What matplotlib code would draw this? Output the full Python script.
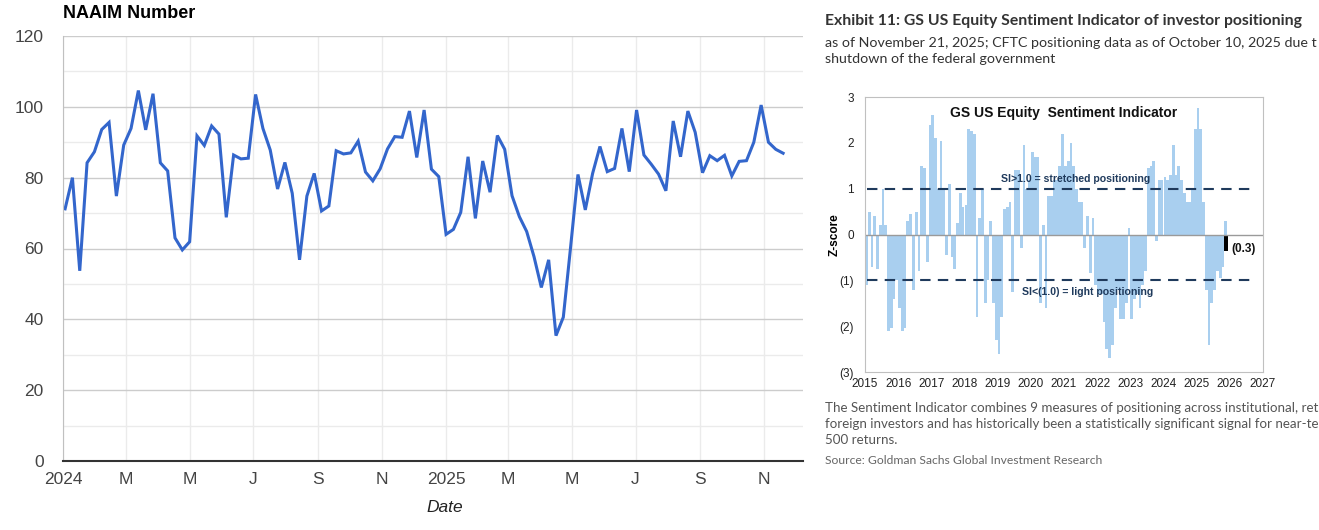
import matplotlib.pyplot as plt
import numpy as np

plt.rcParams['font.family'] = ['Liberation Sans', 'DejaVu Sans']

W, H = 1319, 530

# NAAIM exposure index, weekly readings starting 3 Jan 2024
naaim_start = np.datetime64('2024-01-03')
naaim = [71.2, 80.0, 53.7, 84.2, 87.3, 93.6, 95.6, 74.8, 89.2, 93.9,
         104.6, 93.5, 103.7, 84.2, 81.9, 63.0, 59.6, 61.9, 91.8, 89.1,
         94.6, 92.3, 68.8, 86.4, 85.3, 85.5, 103.5, 93.9, 87.8, 76.8,
         84.3, 75.6, 56.8, 74.8, 81.2, 70.6, 72.0, 87.6, 86.7, 87.0,
         90.3, 81.6, 79.1, 82.5, 88.1, 91.6, 91.4, 98.8, 85.7, 99.1,
         82.4, 80.3, 64.0, 65.4, 70.2, 85.9, 68.5, 84.7, 75.9, 91.9,
         88.0, 74.9, 69.0, 64.8, 57.7, 49.0, 56.8, 35.4, 40.6, 60.5,
         80.9, 70.9, 81.2, 88.8, 81.7, 82.6, 93.9, 81.7, 99.1, 86.4,
         83.8, 81.0, 76.3, 96.0, 85.9, 98.8, 92.8, 81.4, 86.2, 84.8,
         86.3, 80.5, 84.6, 84.8, 90.0, 100.5, 90.0, 88.0, 86.9]
naaim_dates = naaim_start + np.arange(len(naaim)) * np.timedelta64(7, 'D')

naaim_ticks = ['2024-01-01', '2024-03-01', '2024-05-01', '2024-07-01',
               '2024-09-01', '2024-11-01', '2025-01-01', '2025-03-01',
               '2025-05-01', '2025-07-01', '2025-09-01', '2025-11-01']
naaim_ticklabels = ['2024', 'M', 'M', 'J', 'S', 'N',
                    '2025', 'M', 'M', 'J', 'S', 'N']

# GS US equity sentiment indicator (z-score), monthly from Jan 2015
si_start = 2015
si = [-1.1, 0.5, -0.7, 0.4, -0.75, 0.2, 1.0, 0.2, -2.1, -2.05, -1.4, -1.0,
      -1.6, -2.1, -2.05, 0.3, 0.45, -1.2, 0.5, -0.8, 1.5, 1.45, -0.6, 2.4,
      2.6, 2.1, 1.0, 2.05, 1.0, -0.45, 1.1, -0.5, -0.75, 0.25, 0.9, 0.6,
      0.65, 2.3, 2.25, 2.2, -1.8, 0.35, 1.0, -1.5, -1.0, 0.3, -1.5, -2.3,
      -2.6, -1.8, 0.55, 0.6, 0.7, -1.25, 1.4, 1.4, -0.3, 1.95, 1.0, 1.2,
      1.8, 1.7, 1.7, -1.5, 0.2, -1.6, 0.85, 0.85, 1.2, 1.2, 1.5, 2.2,
      1.5, 1.6, 2.0, 1.5, 1.0, 0.7, 0.7, -0.3, 0.4, -0.85, 0.35, -1.1,
      -1.3, -1.3, -1.9, -2.5, -2.7, -2.4, -1.6, -1.2, -1.85, -1.85, -1.5, 0.15,
      -1.85, -1.4, -1.3, -1.6, -1.1, -0.8, 1.45, 1.5, 1.6, -0.15, 1.2, 1.2,
      1.25, 1.2, 1.3, 1.95, 1.3, 1.5, 1.2, 0.9, 0.7, 0.7, 1.0, 2.3,
      2.75, 2.3, 0.7, -1.2, -2.4, -1.5, -1.2, -0.8, -0.95, -0.7, 0.3]
si_x = si_start + (np.arange(len(si)) + 0.5) / 12
si_latest_x = 2025.89
si_latest = -0.35
si_years = list(range(2015, 2028))
si_yticks = [3, 2, 1, 0, -1, -2, -3]
si_yticklabels = ['3', '2', '1', '0', '(1)', '(2)', '(3)']

fig = plt.figure(figsize=(W / 100, H / 100), dpi=100)

# ---- left: NAAIM Number ----
ax = fig.add_axes([63 / W, 1 - 461 / H, 740 / W, 425 / H])
ax.plot(naaim_dates, naaim, color='#3366cc', lw=2.2, solid_joinstyle='miter')
ax.set_ylim(0, 120)
ax.set_xlim(np.datetime64('2024-01-01'), np.datetime64('2025-12-08'))
ax.set_yticks(range(0, 121, 20))
ax.set_yticks(range(10, 120, 20), minor=True)
ax.set_xticks(np.array(naaim_ticks, dtype='datetime64[D]'))
ax.set_xticklabels(naaim_ticklabels)
ax.grid(axis='y', which='major', color='#cccccc', lw=1)
ax.grid(axis='y', which='minor', color='#ebebeb', lw=1)
ax.grid(axis='x', which='major', color='#ebebeb', lw=1)
ax.set_axisbelow(True)
ax.tick_params(which='both', length=0, labelsize=12.5, labelcolor='#444444')
ax.tick_params(axis='y', pad=14)
ax.tick_params(axis='x', pad=8)
for s in ['top', 'right']:
    ax.spines[s].set_visible(False)
ax.spines['left'].set_color('#c0c0c0')
ax.spines['bottom'].set_color('#333333')
ax.spines['bottom'].set_linewidth(1.5)
fig.text(63 / W, 1 - 14 / H, 'NAAIM Number', fontsize=13, fontweight='bold',
         va='center', ha='left')
fig.text(445 / W, 1 - 508 / H, 'Date', fontsize=12.5, style='italic',
         va='center', ha='center', color='#222222')

# ---- right: GS sentiment indicator exhibit ----
lato = ['Lato', 'DejaVu Sans']
fig.text(825 / W, 1 - 21 / H,
         'Exhibit 11: GS US Equity Sentiment Indicator of investor positioning',
         family=lato, fontsize=11.3, fontweight='bold', color='#333333', va='center')
fig.text(825 / W, 1 - 43 / H,
         'as of November 21, 2025; CFTC positioning data as of October 10, 2025 due t',
         family=lato, fontsize=10.3, color='#333333', va='center')
fig.text(825 / W, 1 - 59 / H, 'shutdown of the federal government',
         family=lato, fontsize=10.3, color='#333333', va='center')

bx = fig.add_axes([865 / W, 1 - 372 / H, 398 / W, 275 / H])
bx.bar(si_x, si, width=1 / 12, color='#a9cfef', edgecolor='none')
bx.bar(si_latest_x, si_latest, width=0.12, color='black')
bx.axhline(0, color='#9a9a9a', lw=1)
for lvl in (1, -1):
    bx.plot([2015.05, 2026.6], [lvl, lvl], color='#1f3a5c', lw=1.5,
            dashes=(5, 3.5))
bx.set_xlim(2015, 2027)
bx.set_ylim(-3, 3)
bx.set_xticks(si_years)
bx.set_yticks(si_yticks)
bx.set_yticklabels(si_yticklabels)
bx.tick_params(length=0, labelsize=8.5, labelcolor='#222222')
bx.tick_params(axis='x', pad=4)
bx.tick_params(axis='y', pad=8)
for s in bx.spines.values():
    s.set_color('#c0c0c0')
bx.set_ylabel('Z-score', fontsize=8.5, fontweight='bold', labelpad=-1)
bx.text(0.5, 0.94, 'GS US Equity  Sentiment Indicator', transform=bx.transAxes,
        ha='center', va='center', fontsize=10, fontweight='bold', color='#111111')
bx.text(2021.35, 1.21, 'SI>1.0 = stretched positioning', ha='center', va='center',
        fontsize=7.6, fontweight='bold', color='#1f3a5c')
bx.text(2021.71, -1.26, 'SI<(1.0) = light positioning', ha='center', va='center',
        fontsize=7.6, fontweight='bold', color='#1f3a5c')
bx.text(si_latest_x + 0.15, -0.32, '(0.3)', ha='left', va='center',
        fontsize=8.5, fontweight='bold', color='#111111')

cap = ['The Sentiment Indicator combines 9 measures of positioning across institutional, ret',
       'foreign investors and has historically been a statistically significant signal for near-te',
       '500 returns.']
for i, line in enumerate(cap):
    fig.text(825 / W, 1 - (408 + 16 * i) / H, line, family=lato, fontsize=9.6,
             color='#555555', va='center')
fig.text(825 / W, 1 - 460 / H, 'Source: Goldman Sachs Global Investment Research',
         family=lato, fontsize=8.7, color='#666666', va='center')

fig.savefig('out.png', dpi=100)
